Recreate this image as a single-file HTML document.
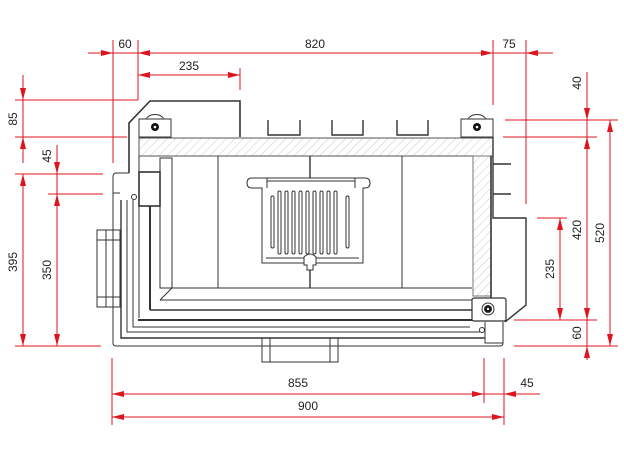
<!DOCTYPE html>
<html><head><meta charset="utf-8"><style>
html,body{margin:0;padding:0;background:#fff;}
svg{display:block;}
text{font-family:"Liberation Sans",sans-serif;font-size:12px;fill:#222;}
</style></head><body>
<svg width="624" height="460" viewBox="0 0 624 460" xmlns="http://www.w3.org/2000/svg">
<defs>
<pattern id="h" width="6" height="6" patternUnits="userSpaceOnUse" patternTransform="rotate(45)">
<line x1="0" y1="0" x2="0" y2="6" stroke="#bbb" stroke-width="0.8"/>
</pattern>
</defs>
<!-- drawing -->
<g fill="none" stroke="#333" stroke-width="1">
<!-- hatched bands -->
<rect x="139" y="138" width="354" height="18" fill="url(#h)" stroke="#555"/>
<rect x="473" y="156" width="18" height="140" fill="url(#h)" stroke="#777"/>
<!-- top-left cap -->
<polyline points="129,173 129,123 150,101 240,101 240,137" stroke-width="1.6"/>
<!-- hinge boxes -->
<rect x="139" y="119" width="32" height="18" fill="#fff"/>
<path d="M146 119 A10 8 0 0 1 164 119"/>
<circle cx="155" cy="127" r="4" fill="#111" stroke="none"/><circle cx="155" cy="127" r="1.3" fill="#fff" stroke="none"/>
<rect x="461" y="119" width="32" height="18" fill="#fff"/>
<path d="M468 119 A10 8 0 0 1 486 119"/>
<circle cx="477" cy="127" r="4" fill="#111" stroke="none"/><circle cx="477" cy="127" r="1.3" fill="#fff" stroke="none"/>
<!-- top U brackets -->
<polyline points="268,120 268,135 300,135 300,120" stroke-width="1.4"/>
<polyline points="332,120 332,135 363,135 363,120" stroke-width="1.4"/>
<polyline points="397,120 397,135 428,135 428,120" stroke-width="1.4"/>
<!-- right side -->
<polyline points="493,137 493,218 526,218 526,305 505,322" stroke-width="1.4"/>
<line x1="493" y1="164" x2="511" y2="164" stroke-width="1.4"/>
<line x1="493" y1="194" x2="511" y2="194" stroke-width="1.4"/>
<line x1="491" y1="156" x2="491" y2="298" stroke-width="1.6"/>
<!-- inner verticals -->
<line x1="218" y1="156" x2="218" y2="288"/>
<line x1="402" y1="156" x2="402" y2="288"/>
<line x1="310" y1="156" x2="310" y2="178" stroke-width="1.4"/>
<line x1="310" y1="265" x2="310" y2="288" stroke-width="1.4"/>
<!-- left wall panel -->
<rect x="160" y="158" width="12" height="130"/>
<line x1="160" y1="288" x2="472" y2="288"/>
<line x1="160" y1="300" x2="472" y2="300"/>
<line x1="172" y1="288" x2="160" y2="300"/>
<!-- block -->
<rect x="139" y="172" width="21" height="34" stroke-width="1.6"/>
<line x1="139" y1="156" x2="139" y2="318"/>
<line x1="150" y1="206" x2="150" y2="310" stroke-width="2"/>
<line x1="150" y1="310" x2="472" y2="310" stroke-width="1.4"/>
<line x1="138" y1="320" x2="485" y2="320" stroke-width="2"/>
<polyline points="133,200 133,327 470,327"/>
<polyline points="127,200 127,332 480,332"/>
<polyline points="121,200 121,338 485,338" stroke-width="1.4"/>
<circle cx="134" cy="197" r="2.5"/>
<circle cx="482" cy="330" r="2.5"/>
<!-- outer box -->
<path d="M113 177 L113 343 Q113 346 116 346 L500 346 Q503 346 503 343 L503 322"/>
<path d="M129 173 L116 173 Q113 173 113 177"/>
<path d="M113 190 L113 193 L120 193"/>
<path d="M485 322 L485 343 L503 343"/>
<!-- nut box -->
<rect x="472" y="298" width="34" height="23" rx="2" fill="#fff" stroke-width="1.2"/>
<circle cx="488" cy="309" r="6"/><circle cx="488" cy="309" r="3.5" fill="#111"/><circle cx="488" cy="309" r="1.2" fill="#fff" stroke="none"/>
<!-- left handle -->
<rect x="97" y="230" width="23" height="77"/>
<line x1="97" y1="240" x2="120" y2="240"/><line x1="97" y1="297" x2="120" y2="297"/>
<line x1="106" y1="230" x2="106" y2="307"/>
<!-- bottom handle -->
<rect x="262" y="346" width="76" height="16"/>
<line x1="270" y1="338" x2="270" y2="362"/><line x1="330" y1="338" x2="330" y2="362"/>
<line x1="262" y1="338" x2="262" y2="346"/><line x1="338" y1="338" x2="338" y2="346"/>
<!-- grate -->
<path d="M262 188 L252 188 Q247 188 247 183 Q247 178 252 178 L365 178 Q370 178 370 183 Q370 188 365 188 L363 188 L363 263 L262 263 Z" fill="#fff"/>
<line x1="267" y1="181" x2="355" y2="181"/>
<line x1="267" y1="178" x2="267" y2="188"/><line x1="355" y1="178" x2="355" y2="188"/>
<g stroke-width="1">
<rect x="271" y="196" width="3" height="52" rx="1.5"/>
<rect x="278" y="191" width="3" height="63" rx="1.5"/>
<rect x="285" y="191" width="3" height="63" rx="1.5"/>
<rect x="292" y="191" width="3" height="63" rx="1.5"/>
<rect x="299" y="191" width="3" height="63" rx="1.5"/>
<rect x="306" y="191" width="3" height="63" rx="1.5"/>
<rect x="313" y="191" width="3" height="63" rx="1.5"/>
<rect x="320" y="191" width="3" height="63" rx="1.5"/>
<rect x="327" y="191" width="3" height="63" rx="1.5"/>
<rect x="334" y="191" width="3" height="63" rx="1.5"/>
<rect x="346" y="196" width="3" height="52" rx="1.5"/>
</g>
<line x1="266" y1="258" x2="359" y2="258"/>
<path d="M304 265 L304 257 Q310 251 316 257 L316 265 L313 265 L313 270 L307 270 L307 265 Z" fill="#fff"/>
</g>
<!-- dimensions -->
<g stroke="#e0141e" stroke-width="1" fill="none">
<line x1="88" y1="53" x2="553" y2="53"/>
<line x1="138" y1="75" x2="240" y2="75"/>
<line x1="113" y1="40" x2="113" y2="163"/>
<line x1="138" y1="40" x2="138" y2="100"/>
<line x1="240" y1="68" x2="240" y2="90"/>
<line x1="493" y1="40" x2="493" y2="105"/>
<line x1="526" y1="40" x2="526" y2="204"/>
<line x1="15" y1="100" x2="138" y2="100"/>
<line x1="15" y1="137" x2="127" y2="137"/>
<line x1="15" y1="174" x2="103" y2="174"/>
<line x1="48" y1="194" x2="103" y2="194"/>
<line x1="15" y1="346" x2="101" y2="346"/>
<line x1="23" y1="75" x2="23" y2="163"/>
<line x1="23" y1="174" x2="23" y2="346"/>
<line x1="57" y1="145" x2="57" y2="346"/>
<line x1="505" y1="120" x2="618" y2="120"/>
<line x1="503" y1="137" x2="597" y2="137"/>
<line x1="537" y1="218" x2="567" y2="218"/>
<line x1="514" y1="320" x2="597" y2="320"/>
<line x1="514" y1="346" x2="618" y2="346"/>
<line x1="587" y1="72" x2="587" y2="360"/>
<line x1="610" y1="120" x2="610" y2="346"/>
<line x1="560" y1="218" x2="560" y2="320"/>
<line x1="112" y1="358" x2="112" y2="425"/>
<line x1="484" y1="358" x2="484" y2="403"/>
<line x1="504" y1="358" x2="504" y2="425"/>
<line x1="112" y1="394" x2="540" y2="394"/>
<line x1="112" y1="417" x2="504" y2="417"/>
</g>
<g fill="#e0141e">
<!-- top -->
<polygon points="113,53 101,50 101,56"/>
<polygon points="138,53 150,50 150,56"/>
<polygon points="493,53 481,50 481,56"/>
<polygon points="526,53 538,50 538,56"/>
<polygon points="138,75 150,72 150,78"/>
<polygon points="240,75 228,72 228,78"/>
<!-- left -->
<polygon points="23,100 20,88 26,88"/>
<polygon points="23,137 20,149 26,149"/>
<polygon points="23,174 20,186 26,186"/>
<polygon points="23,346 20,334 26,334"/>
<polygon points="57,174 54,162 60,162"/>
<polygon points="57,194 54,206 60,206"/>
<polygon points="57,346 54,334 60,334"/>
<!-- right -->
<polygon points="587,120 584,108 590,108"/>
<polygon points="587,137 584,149 590,149"/>
<polygon points="587,320 584,308 590,308"/>
<polygon points="587,346 584,358 590,358"/>
<polygon points="610,120 607,132 613,132"/>
<polygon points="610,346 607,334 613,334"/>
<polygon points="560,218 557,230 563,230"/>
<polygon points="560,320 557,308 563,308"/>
<!-- bottom -->
<polygon points="112,394 124,391 124,397"/>
<polygon points="484,394 472,391 472,397"/>
<polygon points="504,394 516,391 516,397"/>
<polygon points="112,417 124,414 124,420"/>
<polygon points="504,417 492,414 492,420"/>
</g>
<text x="125" y="48" text-anchor="middle">60</text>
<text x="315" y="48" text-anchor="middle">820</text>
<text x="509" y="48" text-anchor="middle">75</text>
<text x="189" y="70" text-anchor="middle">235</text>
<text x="298" y="387" text-anchor="middle">855</text>
<text x="308" y="410" text-anchor="middle">900</text>
<text x="527" y="387" text-anchor="middle">45</text>
<text transform="translate(17,119) rotate(-90)" text-anchor="middle">85</text>
<text transform="translate(17,262) rotate(-90)" text-anchor="middle">395</text>
<text transform="translate(51,156) rotate(-90)" text-anchor="middle">45</text>
<text transform="translate(51,270) rotate(-90)" text-anchor="middle">350</text>
<text transform="translate(581,83) rotate(-90)" text-anchor="middle">40</text>
<text transform="translate(581,230) rotate(-90)" text-anchor="middle">420</text>
<text transform="translate(581,333) rotate(-90)" text-anchor="middle">60</text>
<text transform="translate(604,233) rotate(-90)" text-anchor="middle">520</text>
<text transform="translate(554,269) rotate(-90)" text-anchor="middle">235</text>
</svg>
</body></html>
